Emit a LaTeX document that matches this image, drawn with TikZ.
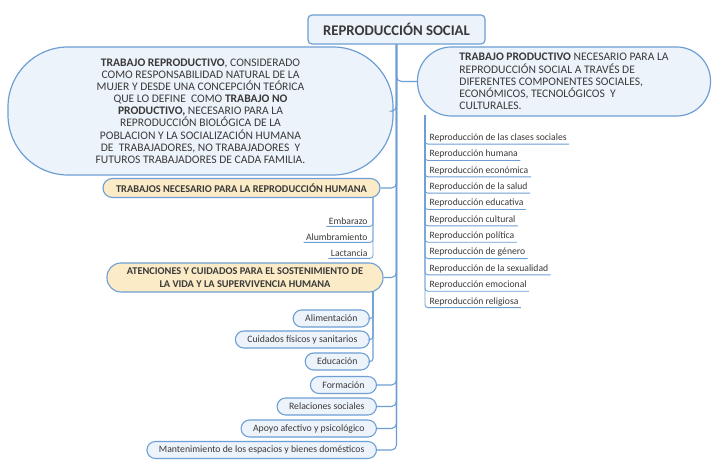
\documentclass[tikz,border=0pt]{standalone}
\usepackage{fontspec}
\setmainfont{Carlito}
\usepackage{tikz}

\definecolor{linec}{HTML}{6E9FD4}
\definecolor{bluef}{HTML}{EDF3FB}
\definecolor{yellowf}{HTML}{FBEBC6}
\definecolor{textc}{HTML}{3A3A3A}

\tikzset{
every picture/.style={
line width=1pt
},
conn/.style={draw=linec, line width=1.1pt, rounded corners=5bp},
rootbox/.style={draw=linec, fill=bluef, rounded corners=4bp, line width=1.2pt,
  minimum width=177bp, minimum height=29bp, text=textc,
  font=\fontsize{14.8}{16}\selectfont\bfseries},
bubble/.style={draw=linec, fill=bluef, line width=1.2pt, text=textc,
  font=\fontsize{11.6}{12.2}\selectfont},
yellowpill/.style={draw=linec, fill=yellowf, line width=1.1pt, text=textc, align=center,
  font=\fontsize{10.4}{12.5}\selectfont\bfseries},
bluepill/.style={draw=linec, fill=bluef, line width=1.1pt, text=textc,
  rounded corners=8.5bp, minimum height=17bp, inner xsep=12bp, inner ysep=0bp,
  font=\fontsize{9.8}{11}\selectfont},
item/.style={inner xsep=2bp, inner ysep=1.5bp, text=textc,
  font=\fontsize{9.7}{11}\selectfont}
}

\begin{document}
\begin{tikzpicture}[x=1bp, y=-1bp]
\path[fill=white, use as bounding box] (0,0) rectangle (728,475);

\node[rootbox] (rs) at (396.5,29.5) {REPRODUCCIÓN SOCIAL};

% the two big bubbles
\node[bubble, minimum width=385bp, minimum height=128bp, rounded corners=60bp, align=center]
  (repro) at (200.5,111) {\textbf{TRABAJO REPRODUCTIVO}, CONSIDERADO\\
COMO RESPONSABILIDAD NATURAL DE LA\\
MUJER Y DESDE UNA CONCEPCIÓN TEÓRICA\\
QUE LO DEFINE~ COMO \textbf{TRABAJO NO}\\
\textbf{PRODUCTIVO,} NECESARIO PARA LA\\
REPRODUCCIÓN BIOLÓGICA DE LA\\
POBLACION Y LA SOCIALIZACIÓN HUMANA\\
DE~ TRABAJADORES, NO TRABAJADORES~ Y\\
FUTUROS TRABAJADORES DE CADA FAMILIA.};

\node[bubble, minimum width=293bp, minimum height=69bp, rounded corners=34bp, align=left]
  (prod) at (564,81.5) {\textbf{TRABAJO PRODUCTIVO} NECESARIO PARA LA\\
REPRODUCCIÓN SOCIAL A TRAVÉS DE\\
DIFERENTES COMPONENTES SOCIALES,\\
ECONÓMICOS, TECNOLÓGICOS~ Y\\
CULTURALES.};

% left branches
\node[yellowpill, minimum width=277bp, minimum height=19bp, rounded corners=9.5bp, inner ysep=0bp]
  (trab) at (241.5,188) {TRABAJOS NECESARIO PARA LA REPRODUCCIÓN HUMANA};
\node[yellowpill, minimum width=276bp, minimum height=29bp, rounded corners=14bp, inner ysep=0bp]
  (aten) at (245,277.5) {ATENCIONES Y CUIDADOS PARA EL SOSTENIMIENTO DE\\
LA VIDA Y LA SUPERVIVENCIA HUMANA};

\node[bluepill, anchor=east] (form) at (377,385) {Formación};
\node[bluepill, anchor=east] (rel) at (377,406.5) {Relaciones sociales};
\node[bluepill, anchor=east] (apoyo) at (377,428.5) {Apoyo afectivo y psicológico};
\node[bluepill, anchor=east] (mant) at (377,450) {Mantenimiento de los espacios y bienes domésticos};

\draw[conn] (rs.south) |- (prod.west);
\draw[conn] (rs.south) |- (repro.east);
\foreach \n in {trab, aten, form, rel, apoyo, mant}{
  \draw[conn] (rs.south) |- (\n.east);
}

% reproduccion humana
\coordinate (tv) at (373,197.5);
\foreach \t/\y [count=\i] in {Embarazo/221, Alumbramiento/237, Lactancia/253}{
  \node[item, anchor=east] (h\i) at (370,\y) {\t};
  \draw[conn, line width=0.9pt, rounded corners=3bp] (tv) |- (h\i.south west);
}

% atenciones y cuidados
\coordinate (av) at (373,292);
\node[bluepill, anchor=east] (ali) at (370,318.5) {Alimentación};
\node[bluepill, anchor=east] (cui) at (370,339.5) {Cuidados físicos y sanitarios};
\node[bluepill, anchor=east] (edu) at (370,361.5) {Educación};
\foreach \n in {ali, cui, edu}{
  \draw[conn, rounded corners=3bp] (av) |- (\n.east);
}

% tipos de reproduccion social
\coordinate (pv) at (425,115.5);
\foreach \t [count=\i] in {Reproducción de las clases sociales, Reproducción humana,
  Reproducción económica, Reproducción de la salud, Reproducción educativa,
  Reproducción cultural, Reproducción política, Reproducción de género,
  Reproducción de la sexualidad, Reproducción emocional, Reproducción religiosa}{
  \node[item, anchor=west] (r\i) at (427,{138+16.35*(\i-1)}) {\t};
  \draw[conn, line width=0.9pt, rounded corners=3bp] (pv) |- (r\i.south east);
}
\end{tikzpicture}
\end{document}
